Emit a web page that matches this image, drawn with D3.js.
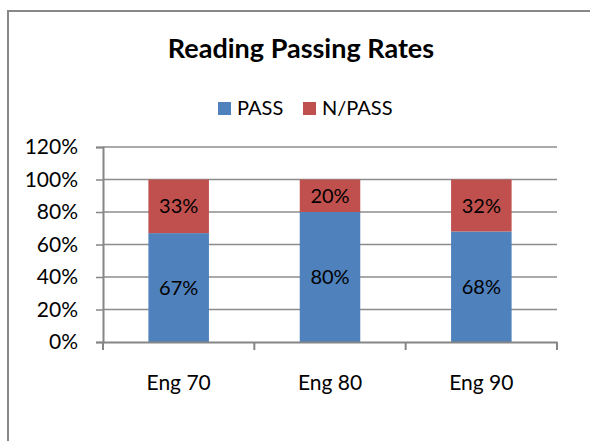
<!DOCTYPE html>
<html>
<head>
<meta charset="utf-8">
<script src="https://cdn.jsdelivr.net/npm/d3@7"></script>
<style>
  body { margin: 0; background: #fff; }
  svg { display: block; font-family: Lato, "Open Sans", sans-serif; }
</style>
</head>
<body>
<svg id="chart" width="590" height="441"></svg>
<script>
// data
const courses = ["Eng 70", "Eng 80", "Eng 90"];
const pass = [0.67, 0.80, 0.68];
const notPass = [0.33, 0.20, 0.32];
const yTicks = [0, 0.2, 0.4, 0.6, 0.8, 1.0, 1.2];
const seriesNames = ["PASS", "N/PASS"];
const colors = ["#4F81BD", "#C0504D"];

const svg = d3.select("#chart");
const fmt = d3.format(".0%");

// chart frame
svg.append("path")
  .attr("d", "M8,441V11H590")
  .attr("fill", "none")
  .attr("stroke", "#888")
  .attr("stroke-width", 2);

// title
svg.append("text")
  .attr("x", 301)
  .attr("y", 58)
  .attr("text-anchor", "middle")
  .style("font-size", "27px")
  .style("font-weight", "bold")
  .text("Reading Passing Rates");

// scales
const x = d3.scaleBand().domain(courses).range([103, 557]).padding(0);
const y = d3.scaleLinear().domain([0, 1.2]).range([342, 147]);
const barW = x.bandwidth() * 0.4;

// gridlines
svg.append("g")
  .selectAll("line")
  .data(yTicks.slice(1))
  .join("line")
  .attr("x1", 103)
  .attr("x2", 557)
  .attr("y1", d => y(d))
  .attr("y2", d => y(d))
  .attr("stroke", "#8c8c8c")
  .attr("stroke-width", 1.5);

// stacked bars
const stackData = courses.map((c, i) => ({ course: c, PASS: pass[i], "N/PASS": notPass[i] }));
const series = d3.stack().keys(seriesNames)(stackData);

const groups = svg.append("g")
  .selectAll("g")
  .data(series)
  .join("g")
  .attr("fill", (d, i) => colors[i]);

groups.selectAll("rect")
  .data(d => d)
  .join("rect")
  .attr("x", d => x(d.data.course) + (x.bandwidth() - barW) / 2)
  .attr("width", barW)
  .attr("y", d => y(d[1]))
  .attr("height", d => y(d[0]) - y(d[1]));

// value labels
groups.selectAll("text")
  .data(d => d.map(v => ({ v: v, key: d.key })))
  .join("text")
  .attr("fill", "#000")
  .attr("x", d => x(d.v.data.course) + x.bandwidth() / 2)
  .attr("y", d => (y(d.v[0]) + y(d.v[1])) / 2)
  .attr("dy", "0.35em")
  .attr("text-anchor", "middle")
  .style("font-size", "20px")
  .text(d => fmt(d.v.data[d.key]));

// y axis
const yAxis = svg.append("g")
  .attr("transform", "translate(103,0)")
  .call(d3.axisLeft(y).tickValues(yTicks).tickFormat(fmt).tickSize(7).tickPadding(18));
yAxis.select(".domain").attr("stroke", "#868686").attr("stroke-width", 2);
yAxis.selectAll(".tick line").attr("stroke", "#868686").attr("stroke-width", 1.5);
yAxis.selectAll(".tick text")
  .style("font-size", "21px")
  .style("font-family", "Lato, sans-serif")
  .attr("fill", "#000");

// x axis
const xAxis = svg.append("g")
  .attr("transform", "translate(0,342)")
  .call(d3.axisBottom(x).tickSize(0).tickPadding(33));
xAxis.select(".domain").attr("stroke", "#868686").attr("stroke-width", 2);
xAxis.selectAll(".tick text")
  .style("font-size", "21px")
  .style("font-family", "Lato, sans-serif")
  .attr("fill", "#000");
// category boundary ticks
xAxis.append("g")
  .selectAll("line")
  .data(courses.map(c => x(c)).concat([x.range()[1]]))
  .join("line")
  .attr("x1", d => d)
  .attr("x2", d => d)
  .attr("y1", 0)
  .attr("y2", 8)
  .attr("stroke", "#868686")
  .attr("stroke-width", 2);

// legend
const legendX = [218, 303];
const legend = svg.append("g")
  .selectAll("g")
  .data(seriesNames)
  .join("g")
  .attr("transform", (d, i) => `translate(${legendX[i]},102)`);
legend.append("rect")
  .attr("width", 13)
  .attr("height", 13)
  .attr("fill", (d, i) => colors[i]);
legend.append("text")
  .attr("x", 19)
  .attr("y", 13)
  .style("font-size", "20px")
  .text(d => d);
</script>
</body>
</html>
